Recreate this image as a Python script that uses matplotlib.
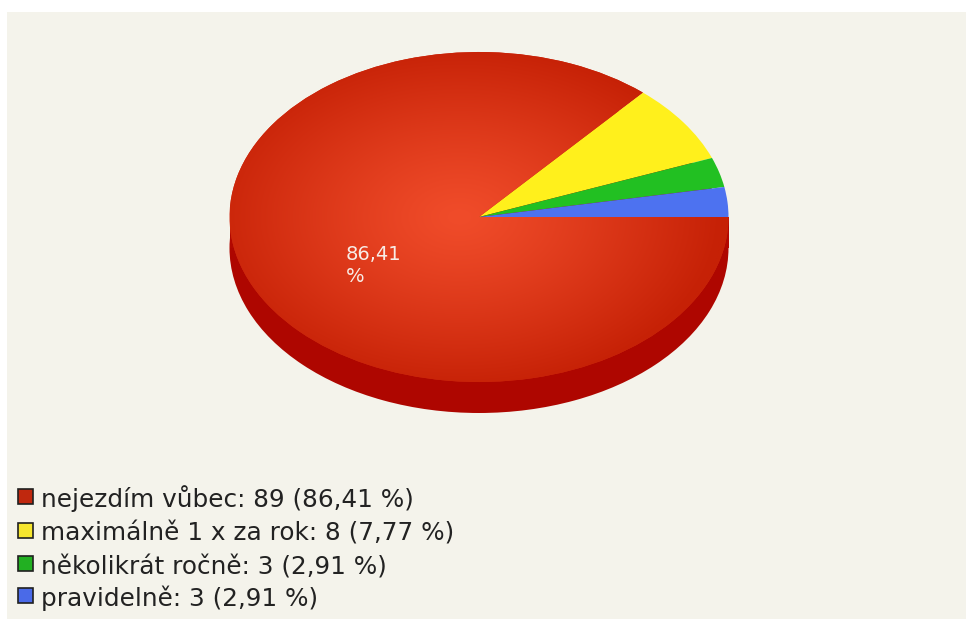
import numpy as np
import matplotlib
matplotlib.use("Agg")
import matplotlib.pyplot as plt
from matplotlib.patches import Rectangle
from matplotlib.colors import to_rgb

# ---- data ----
categories = ["nejezdím vůbec", "maximálně 1 x za rok", "několikrát ročně", "pravidelně"]
counts = [89, 8, 3, 3]
percents = ["86,41", "7,77", "2,91", "2,91"]
slice_colors = ["#d02810", "#fff01c", "#22c022", "#4d72f0"]
legend_colors = ["#c0280e", "#f6e62e", "#22b022", "#4a6ae8"]
main_label = "86,41\n%"

W, H = 966, 619
fig = plt.figure(figsize=(W / 100, H / 100), dpi=100)
fig.patch.set_facecolor("white")

bg = fig.add_axes([0, 0, 1, 1])
bg.set_xlim(0, W)
bg.set_ylim(H, 0)
bg.axis("off")
bg.add_patch(Rectangle((7, 12), W - 7, H - 12, facecolor="#f4f3eb", edgecolor="none", zorder=0))

# pie geometry (pixels)
cx, cy, rx, ry, depth = 479, 217, 249.5, 165, 31
d = depth / ry
pax = fig.add_axes([(cx - rx) / W, 1 - (cy + ry + depth) / H, 2 * rx / W, (2 * ry + depth) / H])
pax.patch.set_visible(False)

# side (depth)
side, _ = pax.pie([1], radius=1, center=(0, -d), colors=["#ae0600"],
                  wedgeprops=dict(linewidth=0), frame=True)
for s in side:
    s.set_zorder(1)
pax.fill_between([-1, 1], [-d, -d], [0, 0], color="#b20800", linewidth=0, zorder=1)

# top face
wedges, _ = pax.pie(counts, radius=1, startangle=0, counterclock=False,
                    colors=slice_colors, wedgeprops=dict(linewidth=0), frame=True)
for w in wedges:
    w.set_zorder(3)

# radial gradient on the red slice
n = 400
xs = np.linspace(-1, 1, n)
ys = np.linspace(1, -1, n)
X, Y = np.meshgrid(xs, ys)
t = np.clip(np.sqrt((X + 0.08) ** 2 + (Y - 0.0) ** 2) / 1.05, 0, 1) ** 1.2
c0 = np.array(to_rgb("#f04c2a"))
c1 = np.array(to_rgb("#c62106"))
img = c0[None, None, :] * (1 - t[..., None]) + c1[None, None, :] * t[..., None]
im = pax.imshow(img, extent=[-1, 1, -1, 1], aspect="auto", zorder=4, interpolation="bilinear")
im.set_clip_path(wedges[0])

pax.set_aspect("auto")
pax.set_xlim(-1, 1)
pax.set_ylim(-1 - d, 1)
pax.axis("off")

# slice label
pax.text(-0.535, -0.17, main_label, ha="left", va="top", fontsize=14,
         family="DejaVu Sans", color="#f8ece6", linespacing=1.2, zorder=6)

# legend
row_top = [489, 523, 556, 588]
for i, (cat, cnt, pct) in enumerate(zip(categories, counts, percents)):
    bg.add_patch(Rectangle((17.5, row_top[i]), 15, 15, facecolor=legend_colors[i],
                           edgecolor="#202020", linewidth=1.2, zorder=2))
    bg.text(41, row_top[i] + 18, f"{cat}: {cnt} ({pct} %)", ha="left", va="baseline",
            fontsize=17.8, family="DejaVu Sans", color="#222222", zorder=3)

fig.savefig("out.png", dpi=100, facecolor=fig.get_facecolor())
